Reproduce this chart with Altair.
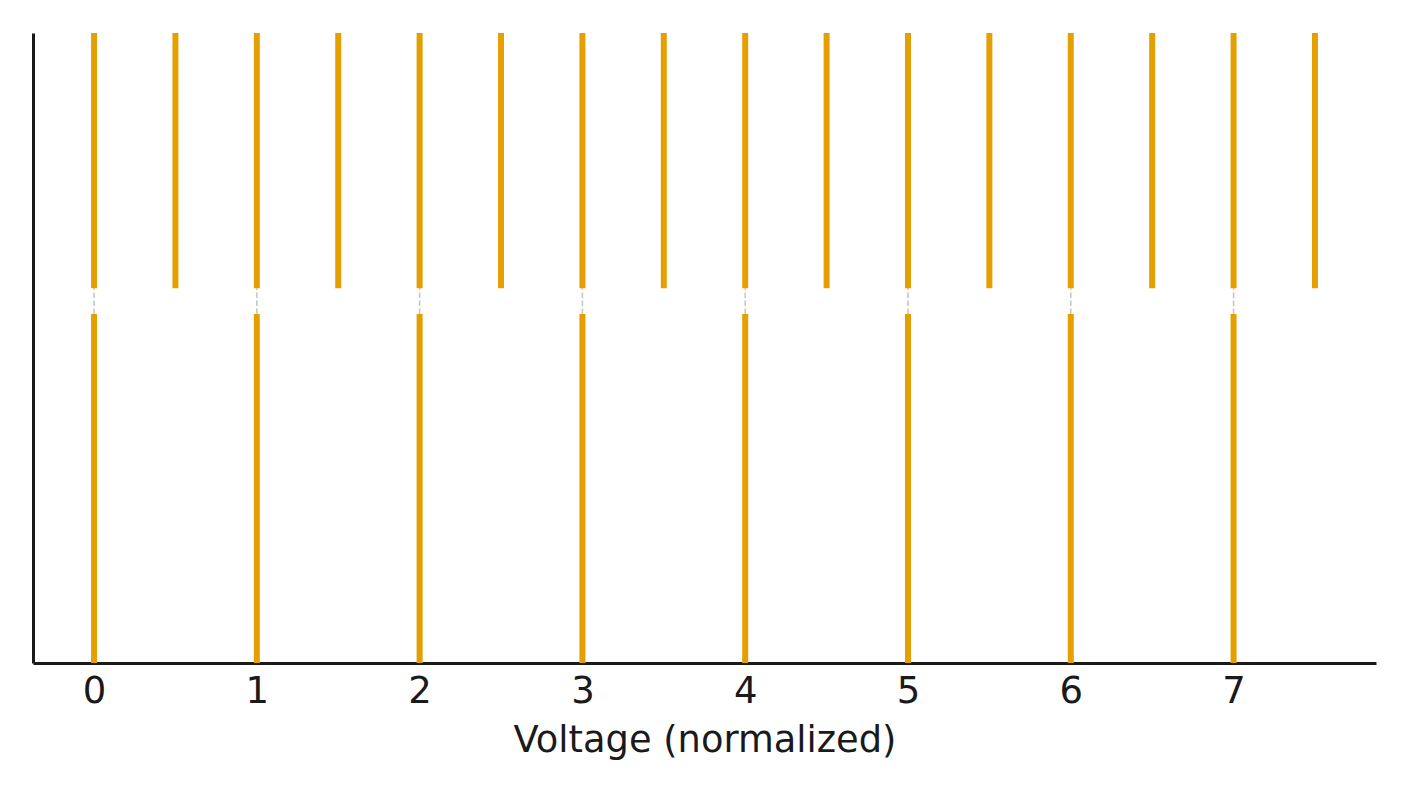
import altair as alt
import pandas as pd

# Data
bottom_x = [0, 1, 2, 3, 4, 5, 6, 7]
top_x = [0, 0.5, 1, 1.5, 2, 2.5, 3, 3.5, 4, 4.5, 5, 5.5, 6, 6.5, 7, 7.5]
bottom_y = [0.0, 0.554]
top_y = [0.595, 1.0]
x_domain = [-0.375, 7.875]

ORANGE = "#E69F00"
FONT = "DejaVu Sans"

bottom_df = pd.DataFrame({"x": bottom_x, "y0": bottom_y[0], "y1": bottom_y[1]})
top_df = pd.DataFrame({"x": top_x, "y0": top_y[0], "y1": top_y[1]})
dash_df = pd.DataFrame({"x": bottom_x, "y0": bottom_y[1], "y1": top_y[0]})

xs = alt.Scale(domain=x_domain, nice=False, zero=False)
ys = alt.Scale(domain=[0, 1], nice=False, zero=False)

x_enc = alt.X(
    "x:Q", scale=xs,
    axis=alt.Axis(
        values=bottom_x, title="Voltage (normalized)", grid=False, ticks=False,
        labelFontSize=37, titleFontSize=36.8, labelPadding=10, titlePadding=13,
        labelColor="#1a1a1a", titleColor="#1a1a1a", titleFontWeight="normal",
        domainColor="#1a1a1a", domainWidth=3, labelFont=FONT,
        titleFont=FONT, format="d",
    ),
)
y_enc = alt.Y(
    "y0:Q", scale=ys,
    axis=alt.Axis(labels=False, ticks=False, title=None, grid=False,
                  domainColor="#1a1a1a", domainWidth=3),
)

bottom = alt.Chart(bottom_df).mark_rule(color=ORANGE, strokeWidth=6).encode(
    x=x_enc, y=y_enc, y2="y1:Q"
)
top = alt.Chart(top_df).mark_rule(color=ORANGE, strokeWidth=6).encode(
    x=alt.X("x:Q", scale=xs), y=alt.Y("y0:Q", scale=ys), y2="y1:Q"
)
dash = alt.Chart(dash_df).mark_rule(
    color="#c4c4c4", strokeWidth=1.5, strokeDash=[5.5, 2.5]
).encode(
    x=alt.X("x:Q", scale=xs), y=alt.Y("y0:Q", scale=ys), y2="y1:Q"
)

chart = alt.layer(dash, bottom, top).properties(
    width=1343, height=630,
    padding={"left": 25, "top": 25, "right": 24, "bottom": 121},
    autosize=alt.AutoSizeParams(type="none"),
    background="white",
).configure_view(strokeWidth=0, stroke="transparent")

chart.save("out.html", embed_options={"renderer": "svg", "actions": False})
